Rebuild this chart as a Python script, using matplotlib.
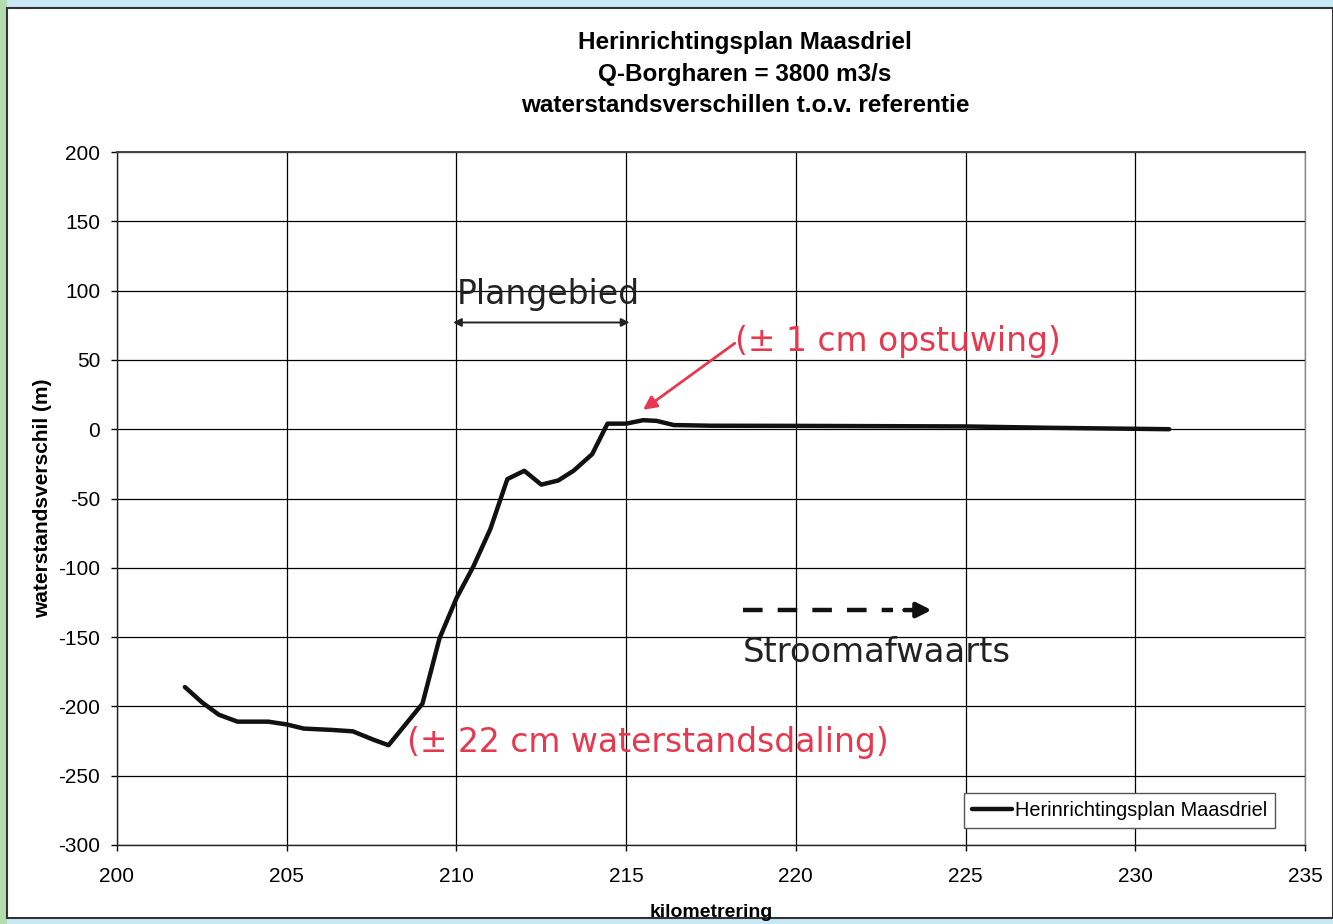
import matplotlib
matplotlib.use("Agg")
import matplotlib.pyplot as plt
from matplotlib.patches import Rectangle

plt.rcParams["axes.unicode_minus"] = False

# ---- data ----
km = [202.0, 202.5, 203.0, 203.55, 204.45, 205.0, 205.5, 206.35, 206.95, 207.55, 208.0,
      209.0, 209.5, 210.0, 210.5, 211.0, 211.5, 212.0, 212.5, 213.0, 213.45, 214.0,
      214.45, 215.0, 215.5, 215.9, 216.4, 217.5, 220.0, 222.5, 225.0, 227.5, 231.0]
verschil = [-186, -197, -206, -211, -211, -213, -216, -217, -218, -224, -228,
            -198, -151, -122, -99, -72, -36, -30, -40, -37, -30, -18,
            4, 4, 6.5, 6, 3, 2.5, 2.4, 2.2, 2, 1, 0]
series_label = "Herinrichtingsplan Maasdriel"
title_lines = ["Herinrichtingsplan Maasdriel", "Q-Borgharen = 3800 m3/s",
               "waterstandsverschillen t.o.v. referentie"]
xticks = [200, 205, 210, 215, 220, 225, 230, 235]
yticks = [200, 150, 100, 50, 0, -50, -100, -150, -200, -250, -300]

red = "#e63950"

fig = plt.figure(figsize=(13.33, 9.24), dpi=100)
fig.patch.set_facecolor("#c8e8f4")
# green left strip
fig.patches.append(Rectangle((0, 0), 7/1333, 1, transform=fig.transFigure,
                             facecolor="#b5dcae", edgecolor="none", zorder=-10))
# white paper
fig.patches.append(Rectangle((7/1333, 6/924), 1 - 7/1333, 1 - 14/924,
                             transform=fig.transFigure, facecolor="white",
                             edgecolor="#333333", linewidth=1.5, zorder=-9))

ax = fig.add_axes([117/1333, 1 - 845/924, 1188/1333, 693/924])
ax.set_zorder(1)
ax.set_xlim(200, 235)
ax.set_ylim(-300, 200)
ax.set_xticks(xticks)
ax.set_yticks(yticks)
ax.grid(True, color="black", linewidth=0.9)
ax.set_axisbelow(True)
for s in ax.spines.values():
    s.set_color("#222222")
    s.set_linewidth(1.0)
ax.spines["right"].set_color("#888888")
ax.spines["top"].set_color("#444444")
ax.spines["top"].set_linewidth(1.4)
ax.tick_params(direction="out", length=4, width=1, labelsize=15)
ax.tick_params(axis="y", pad=8)
ax.tick_params(axis="x", pad=12)
for lab in ax.get_xticklabels() + ax.get_yticklabels():
    lab.set_family("Liberation Sans")

ax.plot(km, verschil, color="#111111", linewidth=3.2, label=series_label,
        solid_joinstyle="round", solid_capstyle="round")

ax.set_xlabel("kilometrering", family="Liberation Sans", fontweight="bold",
              fontsize=14)
ax.xaxis.set_label_coords(0.5, -(904 - 845) / 693)
ax.set_ylabel("waterstandsverschil (m)", family="Liberation Sans",
              fontweight="bold", fontsize=15)
ax.yaxis.set_label_coords((52 - 117) / 1188, 0.5)

ys = [42, 75, 105]
for t, y in zip(title_lines, ys):
    fig.text(745/1333, 1 - y/924, t, ha="center", va="center",
             family="Liberation Sans", fontweight="bold", fontsize=17.5)

leg = ax.legend(loc="lower right", bbox_to_anchor=(0.9745, 0.0245),
                borderaxespad=0,
                frameon=True, fancybox=False, framealpha=1,
                edgecolor="#555555", prop={"family": "Liberation Sans", "size": 14.3},
                handlelength=2.0, handletextpad=0.15, borderpad=0.4)
leg.get_frame().set_linewidth(1.0)

# annotations
ax.text(210.0, 97, "Plangebied", fontsize=23.8, family="DejaVu Sans",
        ha="left", va="center", color="#222222")
ax.annotate("", xy=(209.9, 77), xytext=(215.1, 77),
            arrowprops=dict(arrowstyle="<|-|>", color="#222222", lw=1.4,
                            mutation_scale=12, shrinkA=0, shrinkB=0))
ax.text(218.2, 63.5, "(± 1 cm opstuwing)", fontsize=23.8, family="DejaVu Sans",
        ha="left", va="center", color=red)
ax.annotate("", xy=(215.5, 14), xytext=(218.2, 62),
            arrowprops=dict(arrowstyle="-|>", color=red, lw=2.0,
                            mutation_scale=20, shrinkA=0, shrinkB=0))
ax.text(208.55, -226, "(± 22 cm waterstandsdaling)", fontsize=23.8,
        family="DejaVu Sans", ha="left", va="center", color=red)
# dashed "downstream" arrow
ax.plot([218.45, 222.85], [-130.5, -130.5], color="#111111", linewidth=3.2,
        dashes=(4.4, 3.4), solid_capstyle="butt", dash_capstyle="butt")
ax.annotate("", xy=(224.0, -130.5), xytext=(223.2, -130.5),
            arrowprops=dict(arrowstyle="-|>", color="#111111", lw=3.2,
                            mutation_scale=22, shrinkA=0, shrinkB=0))
ax.text(218.45, -161, "Stroomafwaarts", fontsize=24.3, family="DejaVu Sans",
        ha="left", va="center", color="#222222")

fig.savefig("out.png", dpi=100, facecolor=fig.get_facecolor())
